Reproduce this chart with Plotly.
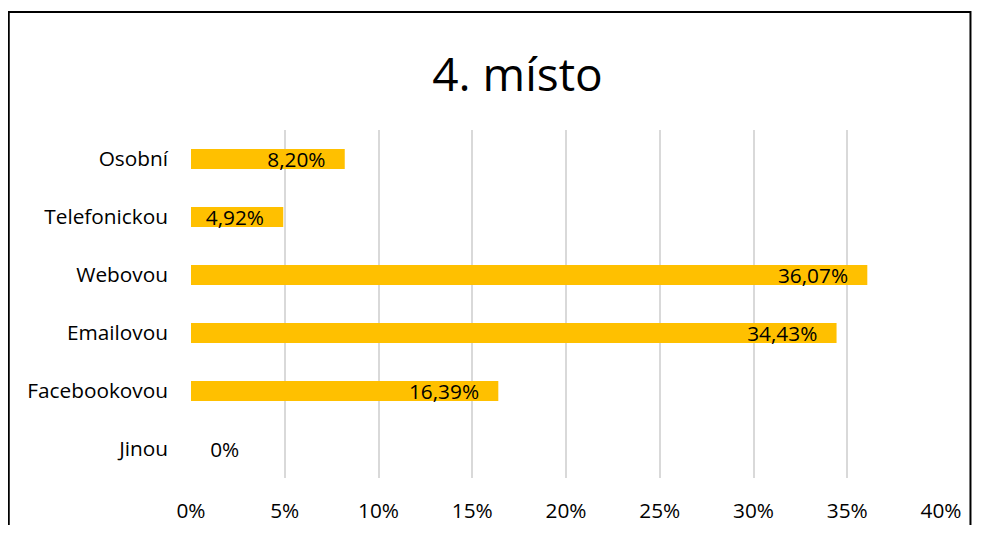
import plotly.graph_objects as go

categories = ["Osobní", "Telefonickou", "Webovou", "Emailovou", "Facebookovou", "Jinou"]
values = [8.20, 4.92, 36.07, 34.43, 16.39, 0.0]
tick_vals = [0, 5, 10, 15, 20, 25, 30, 35, 40]
tick_text = ["0%", "5%", "10%", "15%", "20%", "25%", "30%", "35%", "40%"]
title_text = "4. místo"

NB = "\u00a0"
labels = []
positions = []
for v in values:
    if v == 0:
        labels.append(NB * 3 + "0%")
        positions.append("outside")
    else:
        labels.append(f"{v:.2f}".replace(".", ",") + "%" + NB * 3)
        positions.append("inside")

FONT = "'Open Sans', sans-serif"
FS = 20.8

fig = go.Figure(go.Bar(
    x=values, y=categories, orientation="h",
    marker=dict(color="#FFC000", line=dict(width=0)),
    text=labels, textposition=positions,
    insidetextanchor="end",
    textfont=dict(family=FONT, size=FS, color="black"),
    insidetextfont=dict(family=FONT, size=FS, color="black"),
    outsidetextfont=dict(family=FONT, size=FS, color="black"),
    constraintext="none", cliponaxis=False,
    hoverinfo="skip",
))

fig.update_layout(
    width=965, height=517,
    margin=dict(l=182.5, r=31.5, t=122, b=47, autoexpand=False),
    paper_bgcolor="white", plot_bgcolor="white",
    bargap=0.655,
    showlegend=False,
    font=dict(family=FONT, size=FS, color="black"),
    title=dict(text=title_text, x=0.528, xanchor="center", y=1 - 67 / 517, yanchor="middle",
               font=dict(family=FONT, size=46, color="black")),
    xaxis=dict(range=[0, 40], tickvals=tick_vals, ticktext=tick_text, automargin=False,
               showgrid=True, gridcolor="#D9D9D9", gridwidth=1.5,
               zeroline=False, showline=False, ticks="", ticklabelstandoff=18,
               tickfont=dict(family=FONT, size=FS, color="black"), fixedrange=True),
    yaxis=dict(autorange="reversed", showgrid=False, zeroline=False, showline=False,
               ticks="", ticklabelstandoff=22, automargin=False,
               tickfont=dict(family=FONT, size=FS, color="black"), fixedrange=True),
    shapes=[
        dict(type="path", xref="paper", yref="paper",
             path="M -0.243,-0.3 L -0.243,1.339 L 1.0393,1.339 L 1.0393,-0.3",
             line=dict(color="black", width=2), fillcolor="rgba(0,0,0,0)"),
    ],
)

fig.write_html("out.html")
